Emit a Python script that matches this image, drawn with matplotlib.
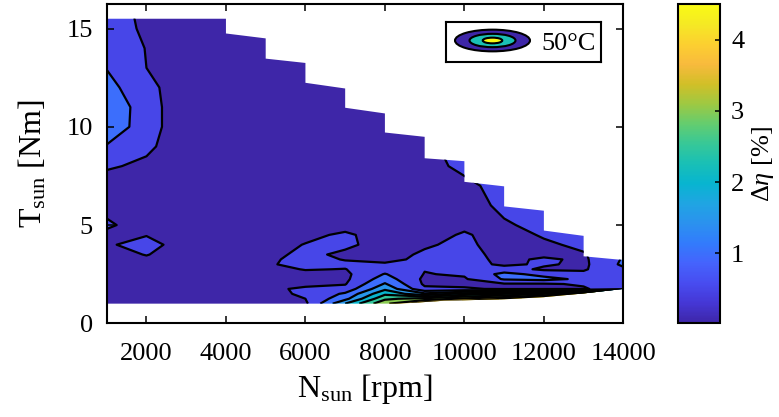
import numpy as np
import matplotlib
matplotlib.use("Agg")
import matplotlib.pyplot as plt
from matplotlib.colors import LinearSegmentedColormap, Normalize
from matplotlib.cm import ScalarMappable
from matplotlib.patches import Polygon, Ellipse

plt.rcParams["font.family"] = ["Liberation Serif", "DejaVu Serif"]
plt.rcParams["mathtext.fontset"] = "custom"
plt.rcParams["mathtext.rm"] = "Liberation Serif"
plt.rcParams["mathtext.it"] = "Liberation Serif:italic"

# grid of the efficiency difference map
speed_rpm = [1000, 2000, 3000, 4000, 5000, 6000, 7000, 8000, 9000, 10000, 11000, 12000, 13000, 14000]
torque_nm = [1.0, 1.25, 1.5, 1.75, 2.0, 2.25, 2.5, 2.75, 3.0, 3.25, 3.5, 4.0, 4.5, 5.0,
             6.0, 7.0, 8.0, 9.0, 10.0, 11.0, 12.0, 13.0, 14.0, 15.0, 16.0]

# delta eta [%] per speed column, bottom to top along torque_nm
deta_1000 = [0.30, 0.30, 0.30, 0.30, 0.30, 0.30, 0.30, 0.30, 0.30, 0.31, 0.32, 0.45, 0.35, 0.60,
             0.30, 0.30, 0.55, 0.95, 1.45, 1.50, 1.18, 0.98, 0.90, 0.80, 0.72]
deta_2000 = [0.30, 0.30, 0.30, 0.30, 0.30, 0.30, 0.30, 0.32, 0.35, 0.42, 0.52, 0.65, 0.48, 0.20,
             0.25, 0.30, 0.42, 0.58, 0.66, 0.66, 0.62, 0.50, 0.48, 0.40, 0.38]
deta_3000 = [0.27, 0.27, 0.27, 0.27, 0.27, 0.27, 0.27, 0.27, 0.27, 0.27, 0.27, 0.30, 0.27, 0.26,
             0.26, 0.26, 0.26, 0.25, 0.25, 0.25, 0.25, 0.26, 0.26, 0.27, 0.27]
deta_4000 = [0.28, 0.28, 0.28, 0.28, 0.28, 0.28, 0.28, 0.28, 0.28, 0.28, 0.28, 0.27, 0.27, 0.27,
             0.27, 0.27, 0.27, 0.27, 0.27, 0.27, 0.27, 0.27, 0.27, 0.27, 0.27]
deta_5000 = [0.30, 0.35, 0.40, 0.42, 0.35, 0.33, 0.33, 0.38, 0.45, 0.42, 0.35, 0.30, 0.28, 0.27,
             0.27, 0.27, 0.27, 0.27, 0.27, 0.27, 0.27, 0.27, 0.27, 0.27, 0.27]
deta_6000 = [0.40, 0.50, 0.55, 0.56, 0.42, 0.38, 0.40, 0.52, 0.62, 0.63, 0.62, 0.52, 0.38, 0.30,
             0.27, 0.27, 0.27, 0.27, 0.27, 0.27, 0.27, 0.27, 0.27, 0.27, 0.27]
deta_7000 = [2.00, 1.35, 1.08, 0.68, 0.47, 0.40, 0.40, 0.49, 0.58, 0.48, 0.40, 0.60, 0.58, 0.32,
             0.27, 0.27, 0.27, 0.27, 0.27, 0.27, 0.27, 0.27, 0.27, 0.27, 0.27]
deta_8000 = [3.40, 2.90, 2.40, 1.90, 1.55, 1.25, 1.03, 0.75, 0.54, 0.42, 0.35, 0.30, 0.28, 0.27,
             0.27, 0.27, 0.28, 0.28, 0.28, 0.28, 0.28, 0.28, 0.28, 0.28, 0.28]
deta_9000 = [4.30, 3.20, 1.60, 0.60, 0.42, 0.40, 0.48, 0.52, 0.56, 0.57, 0.56, 0.45, 0.32, 0.28,
             0.28, 0.30, 0.35, 0.40, 0.42, 0.42, 0.42, 0.42, 0.42, 0.42, 0.42]
deta_10000 = [4.50, 3.60, 2.20, 0.55, 0.40, 0.45, 0.55, 0.62, 0.68, 0.68, 0.66, 0.60, 0.55, 0.40,
              0.30, 0.40, 0.60, 0.68, 0.70, 0.70, 0.70, 0.70, 0.70, 0.70, 0.70]
deta_11000 = [4.50, 4.00, 2.50, 0.45, 0.45, 1.05, 1.15, 0.70, 0.42, 0.38, 0.35, 0.30, 0.30, 0.45,
              0.60, 0.65, 0.68, 0.68, 0.68, 0.68, 0.68, 0.68, 0.68, 0.68, 0.68]
deta_12000 = [4.50, 4.50, 3.00, 0.45, 0.45, 1.15, 0.85, 0.42, 0.56, 0.57, 0.40, 0.42, 0.55, 0.62,
              0.65, 0.65, 0.65, 0.65, 0.65, 0.65, 0.65, 0.65, 0.65, 0.65, 0.65]
deta_13000 = [4.50, 4.50, 4.00, 0.45, 0.55, 0.90, 0.60, 0.45, 0.40, 0.42, 0.46, 0.60, 0.62, 0.62,
              0.62, 0.62, 0.62, 0.62, 0.62, 0.62, 0.62, 0.62, 0.62, 0.62, 0.62]
deta_14000 = [4.50, 4.50, 4.50, 0.80, 0.70, 0.65, 0.70, 0.90, 1.10, 1.05, 0.90, 0.75, 0.70, 0.70,
              0.70, 0.70, 0.70, 0.70, 0.70, 0.70, 0.70, 0.70, 0.70, 0.70, 0.70]

# measured operating envelope (max torque staircase, min torque edge)
env_top_speed = [1000, 4000, 4000, 5000, 5000, 6000, 6000, 7000, 7000, 8000, 8000,
                 9000, 9000, 10000, 10000, 11000, 11000, 12000, 12000, 13000, 13000, 14000]
env_top_torque = [15.5, 15.5, 14.75, 14.5, 13.47, 13.25, 12.24, 11.95, 10.97, 10.68, 9.71,
                  9.49, 8.4, 8.25, 7.2, 6.97, 5.95, 5.73, 4.72, 4.45, 3.41, 3.22]
env_low_speed = [14000, 13000, 12000, 11000, 9500, 8400, 1000]
env_low_torque = [1.75, 1.52, 1.33, 1.22, 1.15, 1.0, 1.0]

fill_levels = [0.0, 0.5, 1.0, 1.5, 2.0, 2.5, 3.0, 3.5, 4.0, 4.5]
line_levels = [0.5, 1.0, 1.5, 2.0, 2.5, 3.0, 3.5, 4.0]
clim = (0.02, 4.5)
cbar_ticks = [1, 2, 3, 4]
legend_label = "50°C"

# MATLAB parula, sampled
parula_rgb = [
    (0.2422, 0.1504, 0.6603), (0.2706, 0.2147, 0.8364), (0.2813, 0.3006, 0.9414),
    (0.2699, 0.3892, 0.9906), (0.1963, 0.4847, 0.9892), (0.1687, 0.5703, 0.9359),
    (0.1248, 0.6459, 0.8883), (0.0297, 0.7082, 0.8163), (0.0964, 0.7500, 0.7120),
    (0.2161, 0.7843, 0.5923), (0.3909, 0.8029, 0.4354), (0.6174, 0.7876, 0.2612),
    (0.8203, 0.7498, 0.1535), (0.9728, 0.7298, 0.2394), (0.9892, 0.8136, 0.1885),
    (0.9597, 0.9135, 0.1423), (0.9769, 0.9839, 0.0805)]
parula = LinearSegmentedColormap.from_list("parula", parula_rgb, N=256)
norm = Normalize(*clim)

Z = np.column_stack([deta_1000, deta_2000, deta_3000, deta_4000, deta_5000, deta_6000,
                     deta_7000, deta_8000, deta_9000, deta_10000, deta_11000, deta_12000,
                     deta_13000, deta_14000])

# MATLAB colours each band with the colour of its lower level
band_colors = [parula(norm(max(lv, clim[0]))) for lv in fill_levels[:-1]]

fig = plt.figure(figsize=(7.79, 4.17), dpi=100)
ax = fig.add_axes([0.1370, 0.2247, 0.6632, 0.7657])

cf = ax.contourf(speed_rpm, torque_nm, Z, levels=fill_levels, colors=band_colors)
cl = ax.contour(speed_rpm, torque_nm, Z, levels=line_levels, colors="black", linewidths=1.6)

env = np.column_stack([env_top_speed + env_low_speed, env_top_torque + env_low_torque])
clip = Polygon(env, closed=True, transform=ax.transData)
cf.set_clip_path(clip)
cl.set_clip_path(clip)

ax.set_xlim(1000, 14000)
ax.set_ylim(0, 16.25)
ax.set_xticks([2000, 4000, 6000, 8000, 10000, 12000, 14000])
ax.set_yticks([0, 5, 10, 15])
ax.tick_params(direction="in", top=True, right=True, length=5, width=1.1, labelsize=19)
ax.tick_params(axis="x", pad=14)
ax.tick_params(axis="y", pad=10)
for s in ax.spines.values():
    s.set_linewidth(1.5)
ax.set_xlabel(r"N$_{\mathrm{sun}}$ [rpm]", fontsize=23, labelpad=5)
ax.set_ylabel(r"T$_{\mathrm{sun}}$ [Nm]", fontsize=23, labelpad=13)

# legend box with a contour icon
lax = fig.add_axes([446 / 779, 1 - 62 / 417, 155 / 779, 40 / 417])
lax.set_xlim(0, 155)
lax.set_ylim(0, 40)
lax.set_xticks([])
lax.set_yticks([])
for s in lax.spines.values():
    s.set_linewidth(1.5)
for w, h, c in [(75, 21.7, parula(0.0)), (46, 13.3, parula(0.5)), (19.5, 5.7, parula(1.0))]:
    lax.add_patch(Ellipse((46.5, 21.5), w, h, facecolor=c, edgecolor="black", linewidth=1.5))
lax.text(95, 12, legend_label, fontsize=19, va="baseline", ha="left")

cax = fig.add_axes([0.8707, 0.2247, 0.0535, 0.7657])
cb = fig.colorbar(ScalarMappable(norm=norm, cmap=parula), cax=cax, ticks=cbar_ticks)
cb.outline.set_linewidth(1.5)
cax.tick_params(direction="in", length=3.5, width=1.1, labelsize=19, pad=8)
cb.set_label(r"$\Delta\eta$ [%]", fontsize=19, labelpad=4)

fig.savefig("out.png", dpi=100)
